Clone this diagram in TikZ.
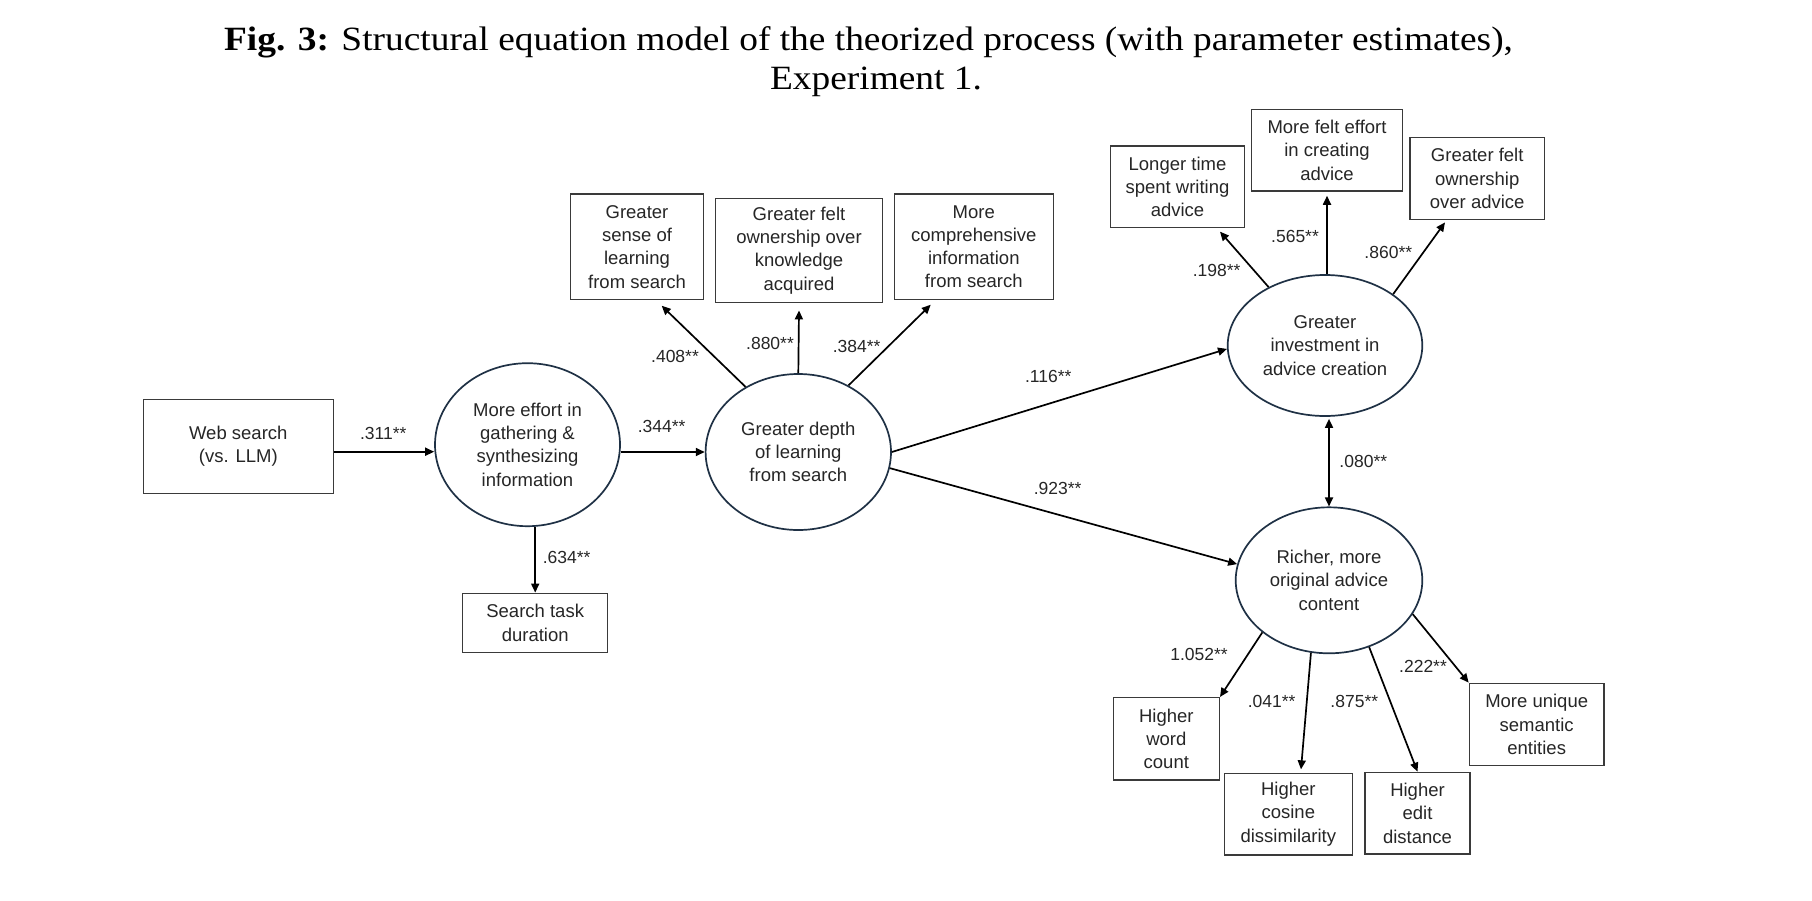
\documentclass[tikz,border=0pt]{standalone}
\usepackage{fontspec}
\setmainfont{Liberation Sans}
\newfontfamily\titlefont{Liberation Serif}
\usetikzlibrary{arrows.meta,shapes.geometric,calc}

\definecolor{ink}{HTML}{262626}
\definecolor{boxline}{HTML}{3A3A3A}
\definecolor{ellline}{HTML}{1F3145}

\tikzset{
  txt/.style={font=\fontsize{18.5}{23.3}\selectfont, text=ink, align=center, inner sep=0pt},
  obsbox/.style={txt, draw=boxline, line width=1.4pt, rectangle},
  latent/.style={txt, draw=ellline, line width=1.7pt, ellipse},
  patharrow/.style={line width=1.7pt, draw=black, -{Triangle[length=9pt,width=8pt]}},
  biarrow/.style={line width=1.7pt, draw=black, {Triangle[length=9pt,width=8pt]}-{Triangle[length=9pt,width=8pt]}},
  coef/.style={font=\fontsize{17.5}{20}\selectfont, text=ink, inner sep=0pt},
  titletext/.style={font=\titlefont\fontsize{34}{38}\selectfont, text=black, inner sep=0pt, xscale=1.1, anchor=base},
}

\begin{document}
\begin{tikzpicture}[x=1pt,y=-1pt]
\useasboundingbox (0,0) rectangle (1812,900);
\fill[white] (0,0) rectangle (1812,900);

% title
\node[titletext] (title1) at (868.5,50) {\textbf{Fig. 3:} Structural equation model of the theorized process (with parameter estimates),};
\node[titletext] (title2) at (876,89) {Experiment 1.};

% left part
\node[obsbox, minimum width=190pt, minimum height=94pt] (ws) at (238.3,446.2) {Web search\\(vs. LLM)};
\node[latent, minimum width=185pt, minimum height=163pt] (eff) at (527.5,444.7) {More effort in\\gathering \&\\synthesizing\\information};
\node[obsbox, minimum width=145pt, minimum height=59pt] (dur) at (535.2,622.8) {Search task\\duration};

% depth of learning
\node[latent, minimum width=185.4pt, minimum height=156pt] (depth) at (798.3,452) {Greater depth\\of learning\\from search};
\node[obsbox, minimum width=132.6pt, minimum height=105.3pt] (sense) at (637,246.7) {Greater\\sense of\\learning\\from search};
\node[obsbox, minimum width=166.6pt, minimum height=104.4pt] (own) at (799,250.5) {Greater felt\\ownership over\\knowledge\\acquired};
\node[obsbox, minimum width=159pt, minimum height=105.3pt] (comp) at (973.8,246.7) {More\\comprehensive\\information\\from search};

% investment
\node[latent, minimum width=194.6pt, minimum height=141pt] (inv) at (1325,345.5) {Greater\\investment in\\advice creation};
\node[obsbox, minimum width=133.6pt, minimum height=81.7pt] (time) at (1177.5,186.8) {Longer time\\spent writing\\advice};
\node[obsbox, minimum width=150.6pt, minimum height=81.7pt] (feltEff) at (1327,150.2) {More felt effort\\in creating\\advice};
\node[obsbox, minimum width=134.3pt, minimum height=81.6pt] (ownAdv) at (1477.2,178.5) {Greater felt\\ownership\\over advice};

% richer content
\node[latent, minimum width=186.6pt, minimum height=146pt] (rich) at (1329,580.3) {Richer, more\\original advice\\content};
\node[obsbox, minimum width=106pt, minimum height=82.3pt] (word) at (1166.3,738.8) {Higher\\word\\count};
\node[obsbox, minimum width=128pt, minimum height=81.7pt] (cos) at (1288.3,814.2) {Higher\\cosine\\dissimilarity};
\node[obsbox, minimum width=105pt, minimum height=81.7pt] (edit) at (1417.5,813.2) {Higher\\edit\\distance};
\node[obsbox, minimum width=134.7pt, minimum height=82.4pt] (uniq) at (1536.7,724.5) {More unique\\semantic\\entities};

% connectors
\draw[patharrow] ([yshift=-5.5pt]ws.east) -- ([yshift=-7pt]eff.west);
\draw[patharrow] (eff.east |- depth.west) -- (depth.west);
\draw[patharrow] (eff.south -| dur.north) -- (dur.north);

\draw[patharrow] (depth.129) -- ([xshift=24.7pt,yshift=-5.7pt]sense.south);
\draw[patharrow] (depth.north) -- ([yshift=-7pt]own.south);
\draw[patharrow] (depth.53) -- ([xshift=-43.1pt,yshift=-4.7pt]comp.south);
\draw[patharrow] (depth.east) -- (inv.182);
\draw[patharrow] (depth.350) -- (rich.170);

\draw[patharrow] (inv.134) -- ([xshift=42.5pt,yshift=-3.3pt]time.south);
\draw[patharrow] (inv.north -| feltEff.south) -- ([yshift=-4pt]feltEff.south);
\draw[patharrow] (inv.37) -- ([xshift=-32.2pt,yshift=-2.4pt]ownAdv.south);
\draw[biarrow] ($(rich.north |- inv.south)+(0,2)$) -- (rich.north);

\draw[patharrow] (rich.218) -- (word.north east);
\draw[patharrow] (rich.256) -- ([xshift=12.7pt,yshift=3.3pt]cos.north);
\draw[patharrow] (rich.301) -- (edit.north);
\draw[patharrow] (rich.338) -- (uniq.north west);

% coefficients
\node[coef] (c311) at (383.3,433.3) {.311**};
\node[coef] (c344) at (661.7,426.7) {.344**};
\node[coef] (c634) at (566.7,557.7) {.634**};
\node[coef] (c408) at (675,356) {.408**};
\node[coef] (c880) at (770,343) {.880**};
\node[coef] (c384) at (856.7,346) {.384**};
\node[coef] (c116) at (1048.3,376.7) {.116**};
\node[coef] (c923) at (1057.7,488.3) {.923**};
\node[coef] (c198) at (1216.7,270.7) {.198**};
\node[coef] (c565) at (1295,236.7) {.565**};
\node[coef] (c860) at (1388.3,252.7) {.860**};
\node[coef] (c080) at (1363.3,461.7) {.080**};
\node[coef] (c1052) at (1199,654) {1.052**};
\node[coef] (c041) at (1271.7,701.7) {.041**};
\node[coef] (c875) at (1354.3,701.7) {.875**};
\node[coef] (c222) at (1423,666.3) {.222**};
\end{tikzpicture}
\end{document}
